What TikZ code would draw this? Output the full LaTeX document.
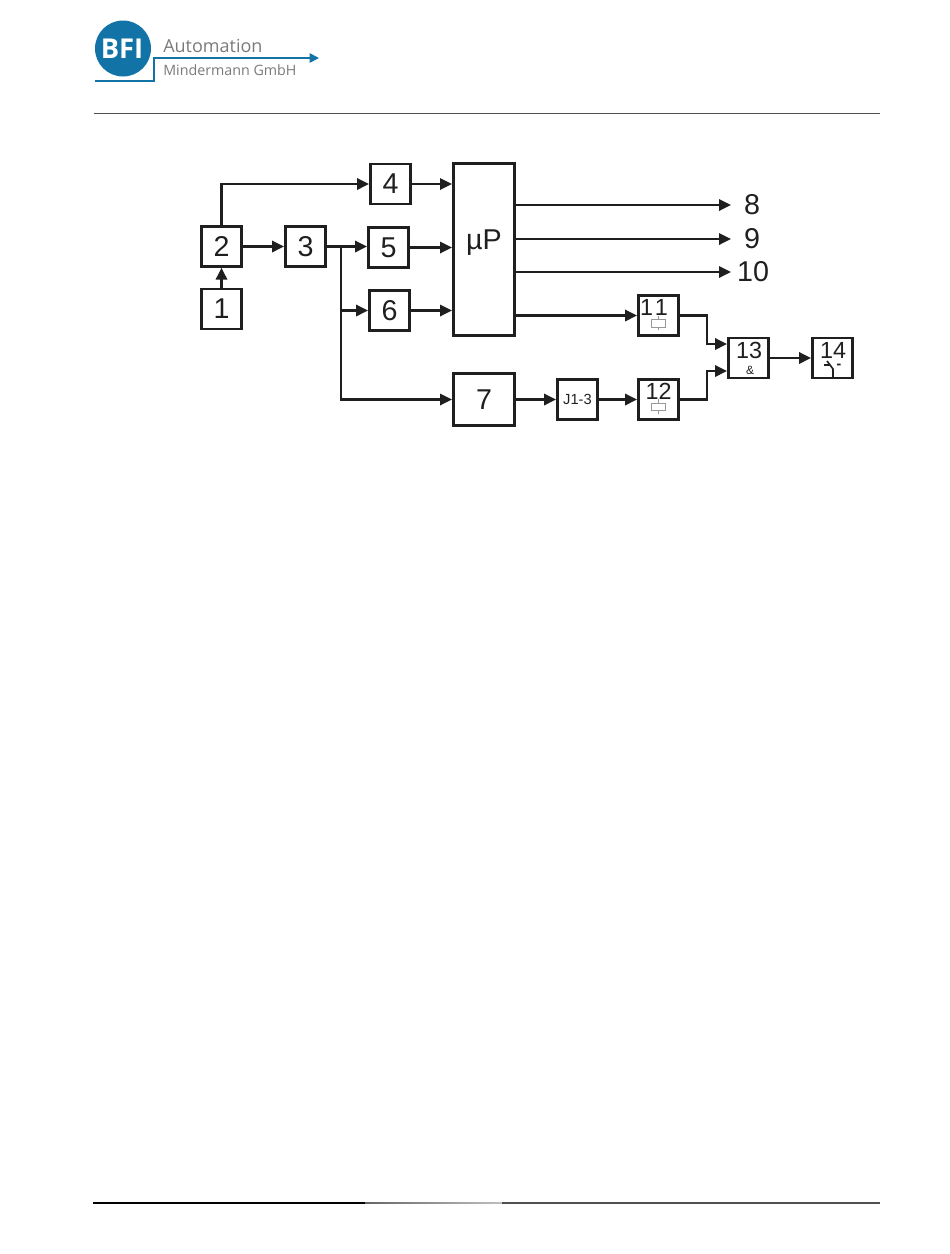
\documentclass[tikz,border=0pt]{standalone}
\usepackage{fontspec}
\setmainfont{Liberation Sans}
\newfontfamily\logofont{Open Sans}
\usetikzlibrary{arrows.meta}
\definecolor{bfiblue}{HTML}{1173A6}
\definecolor{bfigrey}{HTML}{7A7A7A}
\definecolor{rulegrey}{HTML}{505050}
\tikzset{
  blockbox/.style={draw=black!88, line width=2pt, minimum width=30.2pt, minimum height=29.8pt, inner sep=0pt, font=\fontsize{21.5}{24}\selectfont, text=black!88},
  bigblock/.style={blockbox, minimum width=46pt},
  biglabel/.style={inner sep=0pt, font=\fontsize{21.5}{24}\selectfont, text=black!88},
  smalllabel/.style={inner sep=0pt, font=\fontsize{17.5}{20}\selectfont, text=black!88},
  wire/.style={draw=black!88, line width=1.7pt},
  flow/.style={wire, -{Triangle[length=9pt,width=8.5pt]}},
  relay/.style={draw=black!40, line width=0.5pt}
}
\begin{document}
\begin{tikzpicture}[x=0.75pt, y=-0.75pt]
  \useasboundingbox (0,0) rectangle (950,1254);

  % logo
  \fill[bfiblue] (123,48.5) circle (21pt);
  \node (bfi) at (122,49) [inner sep=0pt, text=white, font=\logofont\bfseries\fontsize{20.5}{20}\selectfont] {BFI};
  \node (automation) at (163,46) [anchor=west, inner sep=0pt, text=bfigrey, font=\logofont\fontsize{13.5}{14}\selectfont] {Automation};
  \node (gmbh) at (163,70) [anchor=west, inner sep=0pt, text=bfigrey, font=\logofont\fontsize{10.7}{12}\selectfont] {Mindermann GmbH};
  \coordinate (logoa) at (95,81);
  \coordinate (logob) at (154,58);
  \coordinate (logoc) at (319,58);
  \draw[bfiblue, line width=1.3pt, -{Triangle[length=7pt,width=7pt]}] (logoa) -| (logob) -- (logoc);

  % page rules
  \draw[rulegrey, line width=1.4pt] (94,113.5) -- (880,113.5);
  \draw[black, line width=1pt] (93,1203) -- (365,1203);
  \shade[left color=black!60, right color=black!25] (365,1202.3) rectangle (502,1203.8);
  \draw[rulegrey, line width=1.4pt] (502,1203) -- (880,1203);

  % blocks
  \node[blockbox] (b1) at (221.5,309) {1};
  \node[blockbox] (b2) at (221.5,246.5) {2};
  \node[blockbox] (b3) at (305.5,246.5) {3};
  \node[blockbox] (b4) at (390.5,184) {4};
  \node[blockbox] (b5) at (388.5,247.5) {5};
  \node[blockbox] (b6) at (389.5,310.5) {6};
  \node[bigblock, minimum height=129.2pt] (up) at (484,249.5) {};
  \node[biglabel] (uptext) at (484,243) {µP};
  \node[bigblock, minimum height=39.2pt] (b7) at (484,399.5) {7};
  \node[blockbox, font=\fontsize{11}{12}\selectfont] (j13) at (577.5,399.5) {J1-3};
  \node[blockbox] (b11) at (658.5,315.5) {};
  \node[blockbox] (b12) at (658.5,399.5) {};
  \node[blockbox] (b13) at (748.5,358) {};
  \node[blockbox] (b14) at (832.5,358) {};

  % block texts
  \node[smalllabel] (t11) at (654,307) {1\kern1.5pt1};
  \node[smalllabel] (t12) at (658.5,391) {12};
  \node[smalllabel] (t13) at (749,350.5) {13};
  \node[inner sep=0pt, font=\fontsize{9}{10}\selectfont, text=black!88] (amp) at (750,370) {\&};
  \node[smalllabel] (t14) at (833,350.5) {14};

  % relay symbols
  \draw[relay] (658,316) -- (658,319) (658,327) -- (658,330) (651,319) rectangle (665,327);
  \draw[relay] (658,399) -- (658,403) (658,410) -- (658,414) (651,403) rectangle (665,410);

  % switch symbol
  \draw[black!88, line width=1.2pt] (824,365) -- (829,365) (827,361) -- (833,369) -- (833,377) (837,364.5) -- (840.5,364.5);

  % outputs
  \node[biglabel] (o8) at (752,205) {8};
  \node[biglabel] (o9) at (752,239) {9};
  \node[biglabel] (o10) at (753,272) {10};

  % connections
  \coordinate (tap) at (341,246.5);
  \coordinate (tap6) at (341,310.5);
  \draw[flow] (b1) -- (b2);
  \draw[flow] (b2.north) |- (b4.west);
  \draw[flow] (b2.east) -- (b3.west);
  \draw[flow] (b3.east) -- (b5.west |- b3.east);
  \draw[wire] (tap) -- (tap6);
  \draw[flow] (tap6) -- (b6.west);
  \draw[flow] (tap6) |- (b7.west);
  \draw[flow] (b4.east) -- (up.west |- b4.east);
  \draw[flow] (b5.east) -- (up.west |- b5.east);
  \draw[flow] (b6.east) -- (up.west |- b6.east);
  \draw[flow] (up.east |- o8) -- ++(215,0);
  \draw[flow] (up.east |- o9) -- ++(215,0);
  \draw[flow] (up.east |- o10) -- ++(215,0);
  \draw[flow] (up.east |- b11) -- (b11.west);
  \draw[flow] (b7.east) -- (j13.west);
  \draw[flow] (j13.east) -- (b12.west);
  \draw[flow] (b11.east) -- ++(27,0) |- (b13.west |- 0,344);
  \draw[flow] (b12.east) -- ++(27,0) |- (b13.west |- 0,371);
  \draw[flow] (b13.east) -- (b14.west);
\end{tikzpicture}
\end{document}
